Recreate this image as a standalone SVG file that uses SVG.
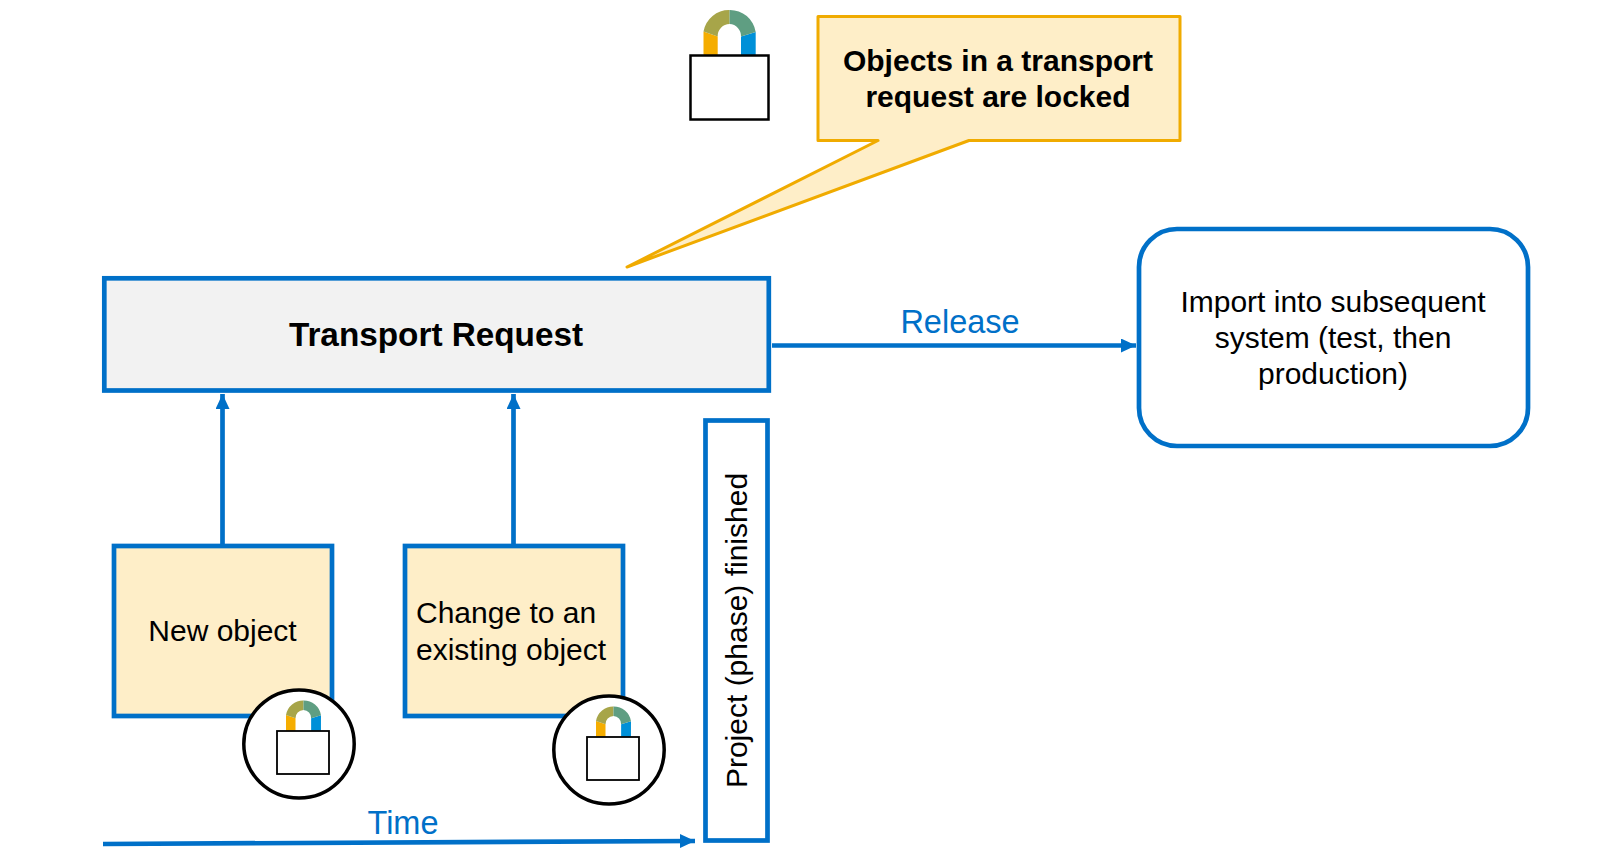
<svg xmlns="http://www.w3.org/2000/svg" width="1600" height="859" viewBox="0 0 1600 859">
<style>
text{font-family:"Liberation Sans",Arial,sans-serif;font-size:30px;fill:#000;text-anchor:middle}
.b{font-weight:bold}
.blue{fill:#0070C8;font-size:32.500px}
.box{stroke:#0070C8;stroke-width:4.700;fill:#fff}
.y{fill:#FEEEC8}
.conn{stroke:#0070C8;stroke-width:4.700;fill:none}
.c{fill:#fff;stroke:#000;stroke-width:3.500}
.lk{fill:#fff;stroke:#000}
</style>
<defs>
<marker id="ah" markerUnits="userSpaceOnUse" markerWidth="16" markerHeight="16" refX="15" refY="7" orient="auto"><path d="M0 0L15 7L0 14Z" fill="#0070C8"/></marker>
<g id="shackle">
<path d="M0 21.500L14.200 26.500V45H0Z" fill="#F5AD00"/>
<path d="M52.200 22L37.500 26.500V45H52.200Z" fill="#0090D8"/>
<path d="M0 21.500A26 26 0 0 1 26.100 0V14A12 12 0 0 0 14.200 26.500Z" fill="#A7A549"/>
<path d="M52.200 22A26 26 0 0 0 26.100 0V14A12 12 0 0 1 37.500 26.500Z" fill="#5F9E82"/>
</g>
</defs>
<g id="connectors">
<path class="conn" d="M772 345.500H1136" marker-end="url(#ah)"/>
<path class="conn" d="M222.500 546V394" marker-end="url(#ah)"/>
<path class="conn" d="M513.500 546V394" marker-end="url(#ah)"/>
<path class="conn" d="M103 844L695 841" marker-end="url(#ah)"/>
</g>
<g id="transport-request"><rect class="box" x="104.300" y="278.300" width="664.500" height="112.200" style="fill:#f2f2f2"/><text class="b" x="436" y="346" style="font-size:33.300px">Transport Request</text></g>
<g id="release-label"><text class="blue" x="960" y="333">Release</text></g>
<g id="import"><rect class="box" x="1139" y="229" width="389" height="217" rx="38"/><text x="1333" y="312">Import into subsequent</text><text x="1333" y="348">system (test, then</text><text x="1333" y="384">production)</text></g>
<g id="new-object"><rect class="box y" x="114" y="546" width="218" height="170"/><text x="222.500" y="641">New object</text></g>
<g id="change-object"><rect class="box y" x="405" y="546" width="218" height="170"/><text x="416" y="623" style="text-anchor:start">Change to an</text><text x="416" y="660" style="text-anchor:start">existing object</text></g>
<g id="project-finished"><rect class="box" x="705.500" y="420.500" width="62" height="420"/><text transform="translate(747 630.500) rotate(-90)">Project (phase) finished</text></g>
<g id="time-label"><text class="blue" x="403" y="834">Time</text></g>
<g id="callout"><path d="M818 16.500H1180V140.500H969L627 267L878 140.500H818Z" fill="#FEEEC8" stroke="#F0AB00" stroke-width="3" stroke-linejoin="round"/><text class="b" x="998" y="71">Objects in a transport</text><text class="b" x="998" y="107">request are locked</text></g>
<g id="lock-top"><use href="#shackle" transform="translate(703.500 10)"/><rect class="lk" x="690.500" y="55.500" width="78" height="64" stroke-width="2.500"/></g>
<g id="lock-new"><ellipse class="c" cx="299" cy="744" rx="55.200" ry="54"/><use href="#shackle" transform="translate(286 700.500) scale(.67)"/><rect class="lk" x="277" y="731" width="52" height="43" stroke-width="1.800"/></g>
<g id="lock-change"><ellipse class="c" cx="609" cy="750" rx="55.200" ry="54"/><use href="#shackle" transform="translate(596 706.500) scale(.67)"/><rect class="lk" x="587" y="737" width="52" height="43" stroke-width="1.800"/></g>
</svg>
